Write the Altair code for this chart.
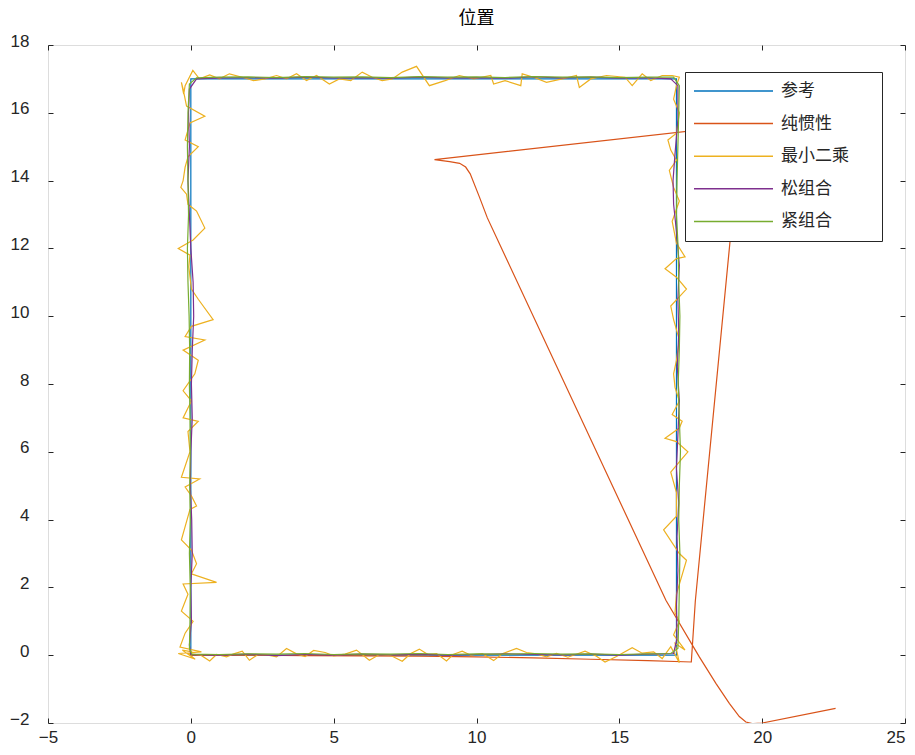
import altair as alt
import pandas as pd

# ---------------- data ----------------
names = ["参考", "纯惯性", "最小二乘", "松组合", "紧组合"]
colors = ["#0072BD", "#D95319", "#EDB120", "#7E2F8E", "#77AC30"]

x_ticks = [-5, 0, 5, 10, 15, 20, 25]
y_ticks = [-2, 0, 2, 4, 6, 8, 10, 12, 14, 16, 18]

# 参考 (reference square)
ref_x = [0, 17, 17, 0, 0]
ref_y = [0, 0, 17, 17, 0]

# 纯惯性 (pure inertial)
ins_x = [0, 2, 4, 6, 8, 10, 12, 14, 16, 17.52, 17.66, 18.88, 19.14,
         8.53, 9.06, 9.41, 9.62, 9.78, 10.1, 10.38, 16.63, 17.8,
         18.38, 18.85, 19.2, 19.43, 19.66, 20.0, 22.57]
ins_y = [0, 0.0, -0.01, -0.02, -0.03, -0.05, -0.08, -0.12, -0.16, -0.2, 1.6, 12.25, 15.62,
         14.62, 14.56, 14.51, 14.4, 14.2, 13.52, 12.9, 1.62, -0.05,
         -0.83, -1.42, -1.81, -1.97, -2.02, -2.0, -1.57]

# 最小二乘 (least squares)
ls_x = [0.05, -0.3, 0.15, -0.1, 0.35, 0.66, 0.9, 1.25, 1.5, 1.8, 2.05, 2.35, 2.7, 3.0, 3.35,
        3.7, 4.0, 4.3, 4.7, 5.0, 5.4, 5.8, 6.25, 6.6, 7.0, 7.4, 7.7, 8.0, 8.3, 8.6, 8.95,
        9.2, 9.5, 9.8, 10.2, 10.6, 10.9, 11.4, 11.75, 12.1, 12.45, 12.8, 13.2, 13.8, 14.2,
        14.5, 14.9, 15.45, 15.8, 16.2, 16.5, 16.8, 17.1, 16.95, 17.3, 16.9,
        17.1, 16.95, 17.0, 17.35, 17.1, 16.55, 17.0, 17.0, 16.8, 17.1, 17.4, 17.0, 16.6,
        17.1, 17.2, 16.85, 17.1, 16.95, 16.9, 17.0, 17.1, 16.9, 16.8, 17.35, 17.0, 16.6,
        17.0, 17.3, 17.0, 16.85, 17.1, 16.9, 16.75, 17.0, 16.8, 16.7, 17.0, 17.1, 16.9,
        17.0, 17.1, 16.85,
        16.5, 16.1, 15.8, 15.45, 15.2, 14.55, 14.0, 13.6, 13.5, 13.0, 12.45, 12.0, 11.6,
        11.55, 11.0, 10.6, 10.5, 9.9, 9.4, 8.9, 8.35, 7.9, 7.4, 7.05, 6.7, 6.35, 6.0, 5.6,
        5.2, 4.85, 4.4, 4.05, 3.7, 3.35, 3.0, 2.6, 2.2, 1.8, 1.35, 1.0, 0.66, 0.3, 0.07,
        -0.2, -0.25,
        -0.33, -0.27, -0.15, 0.49, -0.03, -0.2, 0.26, -0.1, -0.2, -0.27, -0.35, -0.15,
        -0.1, 0.2, 0.49, 0.08, -0.44, -0.03, -0.07, 0.02, 0.26, 0.78, 0.02, -0.2, 0.49,
        -0.27, 0.26, 0.14, -0.27, 0.02, -0.27, 0.26, -0.1, -0.03, -0.33, 0.31, -0.2, 0.02,
        0.2, -0.03, -0.33, 0.02, 0.2, 0.02, 0.9, -0.27, -0.1, -0.33, 0.08, -0.2, -0.38,
        0.37, -0.44, 0.1, 0.0]
ls_y = [0.1, 0.15, -0.12, 0.05, 0.0, -0.17, 0.02, -0.05, 0.04, 0.12, -0.15, 0.02, 0.0, -0.05, 0.2,
        0.04, -0.04, 0.14, 0.08, -0.02, 0.03, 0.15, -0.15, 0.02, -0.01, -0.18, 0.05, 0.18, 0.02, 0.05, -0.17,
        0.03, 0.12, 0.0, 0.05, -0.16, 0.04, 0.2, 0.08, 0.04, -0.05, 0.05, -0.06, 0.12, -0.03,
        -0.2, -0.04, 0.22, 0.06, 0.1, -0.1, 0.25, -0.22, 0.35, 0.15, 0.6,
        1.0, 1.25, 1.8, 2.8, 3.0, 3.7, 4.1, 4.8, 5.4, 5.7, 6.0, 6.3, 6.4,
        6.7, 6.9, 7.1, 7.5, 7.9, 8.3, 8.7, 9.3, 9.9, 10.3, 10.8, 11.15, 11.4,
        11.7, 11.75, 12.15, 12.8, 13.4, 13.8, 14.3, 14.6, 14.9, 15.2, 15.4, 16.0, 16.4,
        16.8, 17.05, 17.1,
        17.1, 16.95, 17.15, 16.8, 17.05, 17.1, 17.0, 16.75, 17.1, 17.0, 16.9, 17.05, 17.15,
        16.8, 16.95, 16.85, 17.1, 17.0, 17.1, 16.95, 16.8, 17.37, 17.2, 17.0, 16.95, 17.05, 17.2, 16.95,
        17.0, 16.85, 17.1, 16.95, 17.15, 17.0, 17.1, 17.0, 16.95, 17.05, 17.15, 17.0, 17.12, 17.0, 17.25,
        16.8, 16.55,
        16.9, 16.7, 16.2, 15.9, 15.7, 15.2, 15.0, 14.7, 14.4, 14.0, 13.8, 13.6,
        13.3, 13.1, 12.6, 12.25, 12.0, 11.8, 11.45, 10.8, 10.5, 9.9, 9.7, 9.4, 9.3,
        9.0, 8.7, 8.3, 7.8, 7.5, 7.0, 6.9, 6.6, 6.0, 5.25, 5.2, 4.96, 4.7,
        4.4, 4.3, 3.4, 3.1, 2.7, 2.4, 2.15, 2.1, 1.8, 1.3, 1.0, 0.65, 0.24,
        0.1, 0.05, -0.1, 0.0]

# 松组合 (loose coupling)
loose_x = [0, 1, 2, 3, 4, 5, 6, 7, 8, 9, 10, 11, 12, 13, 14, 15, 16, 16.9,
           17.02, 17.0, 17.05, 17.02, 17.08, 17.0, 17.05, 17.1, 17.03, 17.08, 17.05, 17.1,
           17.0, 16.9, 16.88, 16.95, 17.05, 17.05, 16.8,
           16, 15, 14, 13, 12, 11, 10, 9, 8, 7, 6, 5, 4, 3, 2, 1, 0.2,
           -0.05, -0.08, -0.05, -0.1, -0.05, 0.0, 0.08, 0.1, 0.05, 0.02, 0.05, 0.0, -0.02,
           0.03, 0.05, 0.0, 0.02, -0.05, 0.0]
loose_y = [0.02, 0.0, 0.03, -0.01, 0.02, 0.0, 0.03, 0.01, 0.03, 0.0, 0.02, 0.04, 0.02, 0.01, 0.03, 0.0, 0.03, 0.05,
           0.5, 1.5, 2.5, 3.5, 4.5, 5.5, 6.5, 7.5, 8.5, 9.5, 10.5, 11.5,
           12.5, 13.3, 14.0, 14.8, 15.8, 16.8, 17.0,
           17.04, 17.02, 17.05, 17.03, 17.06, 17.02, 17.04, 17.03, 17.05, 17.02, 17.04, 17.03, 17.05, 17.02, 17.04, 17.03, 17.0,
           16.7, 16, 15, 14, 13, 12, 11, 10, 9, 8, 7, 6, 5,
           4, 3, 2, 1, 0.3, 0.0]

# 紧组合 (tight coupling)
tight_x = [0.02, 1, 2, 3, 4, 5, 6, 7, 8, 9, 10, 11, 12, 13, 14, 15, 16, 16.8,
           17.05, 17.08, 17.1, 17.12, 17.08, 17.1, 17.14, 17.1, 17.06, 17.1, 17.12, 17.08,
           17.06, 17.0, 17.02, 17.05, 17.08, 17.1, 16.9,
           16, 15, 14, 13, 12, 11, 10, 9, 8, 7, 6, 5, 4, 3, 2, 1, 0.2,
           -0.05, -0.1, -0.12, -0.1, -0.08, -0.12, -0.1, -0.06, -0.04, -0.05, -0.03, -0.02,
           -0.04, -0.02, -0.05, -0.02, -0.03, -0.05, 0.05]
tight_y = [0.03, 0.02, 0.04, 0.03, 0.05, 0.02, 0.04, 0.03, 0.05, 0.02, 0.04, 0.03, 0.05, 0.03, 0.04, 0.02, 0.04, 0.05,
           0.2, 1, 2, 3, 4, 5, 6, 7, 8, 9, 10, 11,
           12, 13, 14, 15, 16, 16.8, 17.05,
           17.05, 17.04, 17.06, 17.05, 17.07, 17.04, 17.06, 17.05, 17.07, 17.04, 17.06, 17.05, 17.07, 17.04, 17.06, 17.05, 17.03,
           16.85, 16, 15, 14, 13, 12, 11, 10, 9, 8, 7, 6,
           5, 4, 3, 2, 1, 0.2, 0.0]

series_x = [ref_x, ins_x, ls_x, loose_x, tight_x]
series_y = [ref_y, ins_y, ls_y, loose_y, tight_y]

# ---------------- chart ----------------
FONT_NUM = "Liberation Sans"
FONT_CJK = "Noto Sans CJK SC"
DARK = "#262626"

xscale = alt.Scale(domain=[-5, 25], nice=False, zero=False)
yscale = alt.Scale(domain=[-2, 18], nice=False, zero=False)
cscale = alt.Scale(domain=names, range=colors)

x_axis = alt.Axis(values=x_ticks, title=None, grid=False, domain=False, offset=-5, tickSize=5,
                  tickColor=DARK, labelColor=DARK, labelFont=FONT_NUM, labelFontSize=17,
                  labelPadding=6, labelFlush=False,
                  labelAlign={"condition": {"test": "datum.value == 25", "value": "right"},
                              "value": "center"})
y_axis = alt.Axis(values=y_ticks, title=None, grid=False, domain=False, offset=-5, tickSize=5,
                  tickColor=DARK, labelColor=DARK, labelFont=FONT_NUM, labelFontSize=17,
                  labelPadding=19, labelOffset=-4, labelFlush=False)
x_top = alt.Axis(values=x_ticks, title=None, grid=False, domain=False, offset=-5, tickSize=5,
                 tickColor=DARK, labels=False, orient="top")
y_right = alt.Axis(values=y_ticks, title=None, grid=False, domain=False, offset=-5, tickSize=5,
                   tickColor=DARK, labels=False, orient="right")

# trailing ideographic space + spaces kept by a zero-width space so the box gets MATLAB-like width
legend = alt.Legend(orient="none", legendX=637, legendY=27, title=None,
                    symbolType="stroke", symbolSize=6241, symbolStrokeWidth=1.5,
                    labelFont=FONT_CJK, labelFontSize=17, labelColor=DARK, labelOffset=7,
                    labelExpr="datum.label + '\u3000  \u200b'",
                    fillColor="white", strokeColor=DARK, padding=8,
                    clipHeight=22, rowPadding=10.6)

layers = []
for k, name in enumerate(names):
    df = pd.DataFrame({"x": series_x[k], "y": series_y[k]})
    df["s"] = name
    df["i"] = range(len(df))
    if k == 0:
        enc = dict(x=alt.X("x:Q", scale=xscale, axis=x_axis),
                   y=alt.Y("y:Q", scale=yscale, axis=y_axis),
                   color=alt.Color("s:N", scale=cscale, legend=legend))
    else:
        enc = dict(x=alt.X("x:Q"), y=alt.Y("y:Q"), color=alt.Color("s:N"))
    layers.append(
        alt.Chart(df).mark_line(strokeWidth=1.2, clip=True).encode(order="i:Q", **enc)
    )

lines = alt.layer(*layers)

mirror_df = pd.DataFrame({"x": ref_x, "y": ref_y})
mirror = alt.Chart(mirror_df).mark_point(opacity=0).encode(
    x=alt.X("x:Q", axis=x_top),
    y=alt.Y("y:Q", axis=y_right),
)

chart = alt.layer(lines, mirror).resolve_axis(x="independent", y="independent").properties(
    width=857, height=678,
    autosize=alt.AutoSizeParams(type="none"),
    padding={"left": 40, "top": 37, "right": 2, "bottom": 24},
    title=alt.TitleParams("位置", font=FONT_CJK, fontSize=18, fontWeight="normal",
                          color="#000000", offset=4),
).configure_view(stroke=DARK, strokeWidth=1).configure(background="white")

chart.save("out.html", embed_options={"renderer": "svg", "actions": False})
